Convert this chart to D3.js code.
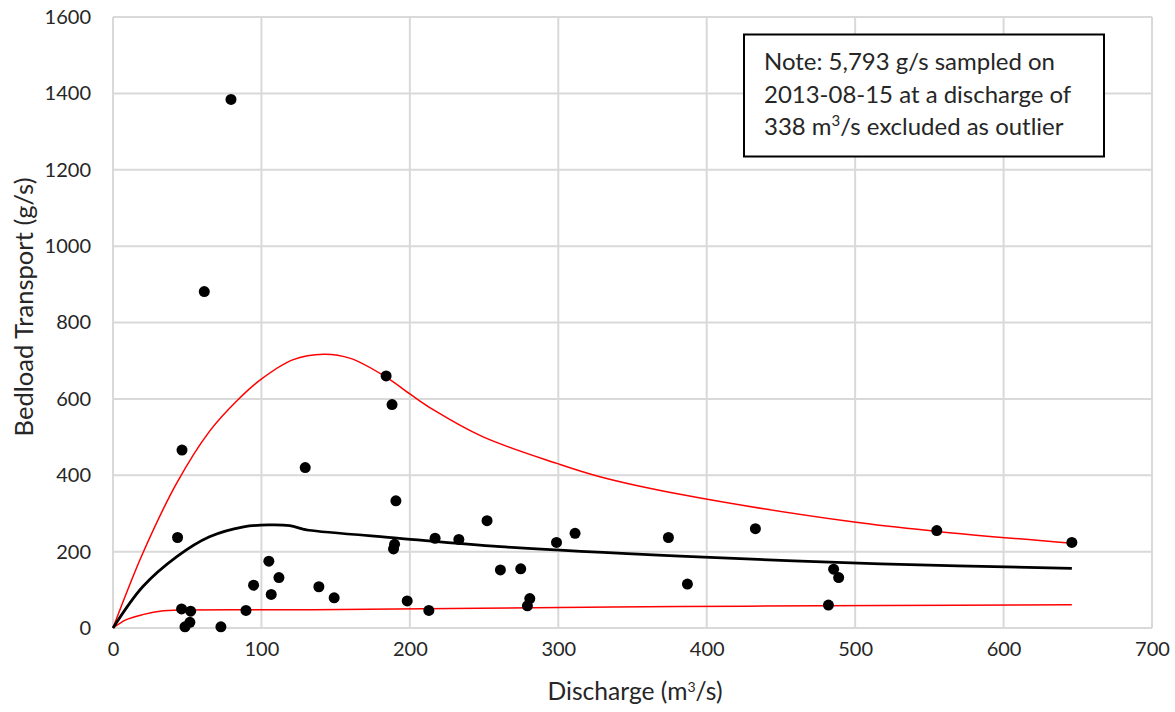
<!DOCTYPE html>
<html>
<head>
<meta charset="utf-8">
<script src="https://cdn.jsdelivr.net/npm/d3@7"></script>
<style>
  body { margin: 0; background: #fff; }
  text { font-family: Lato, "Open Sans", sans-serif; fill: #262626; }
</style>
</head>
<body>
<div id="container"></div>
<script>
// sampled bedload vs discharge
var discharge = [79.5, 61.5, 46.5, 184, 188, 129.5, 190.6, 252, 43.5, 217, 233, 189.7, 189, 261,
  105, 111.8, 94.7, 106.6, 138.7, 149, 198.2, 212.8, 46.2, 52.3, 51.8, 48.5, 89.6, 72.7,
  298.8, 311.3, 274.7, 280.8, 279.2, 374.2, 387, 432.8, 485.5, 488.9, 482, 555, 646];
var bedload = [1384, 881, 466, 660, 585, 420, 333, 281, 237, 235, 232, 219, 207, 152,
  175, 132, 112, 88, 108, 79, 71, 46, 50, 44, 15, 3, 46, 3,
  224, 248, 155, 77, 58, 237, 115, 260, 154, 132, 60, 255, 224];

// rating curve and bounds
var fitX = [0, 20, 43, 65, 88, 105, 119, 128, 132, 193, 261, 382, 517, 646];
var fitY = [0, 108, 187, 239, 265, 270, 268, 259, 256, 235, 213, 188, 168, 156];
var upperX = [0, 20, 43, 65, 84, 99, 121, 142, 160, 184, 200, 216, 249, 299, 328, 382, 498, 555, 646];
var upperY = [0, 195, 380, 515, 597, 649, 702, 717, 706, 657, 613, 571, 501, 431, 396, 350, 278, 253, 222];
var lowerX = [0, 9, 20, 34, 43, 135, 247, 382, 517, 646];
var lowerY = [0, 22, 35, 45, 47, 48, 52, 56, 59, 61];

var xTicks = [0, 100, 200, 300, 400, 500, 600, 700];
var yTicks = [0, 200, 400, 600, 800, 1000, 1200, 1400, 1600];

var width = 1175, height = 712;
var margin = {top: 17, right: 23, bottom: 84, left: 113};

var svg = d3.select("#container").append("svg")
    .attr("width", width)
    .attr("height", height);

var x = d3.scaleLinear().domain([0, 700]).range([margin.left, width - margin.right]);
var y = d3.scaleLinear().domain([0, 1600]).range([height - margin.bottom, margin.top]);

// squeeze/stretch a text to the width it has in the picture
function fitWidth(sel, target) {
  var fs = parseFloat(sel.style("font-size"));
  var w = sel.node().getComputedTextLength();
  sel.style("font-size", (fs * target / w).toFixed(2) + "px");
}

// gridlines
svg.append("g")
  .selectAll("line")
  .data(xTicks)
  .enter().append("line")
    .attr("x1", d => x(d)).attr("x2", d => x(d))
    .attr("y1", y(0)).attr("y2", y(1600))
    .attr("stroke", "#d9d9d9").attr("stroke-width", 2);

svg.append("g")
  .selectAll("line")
  .data(yTicks)
  .enter().append("line")
    .attr("x1", x(0)).attr("x2", x(700))
    .attr("y1", d => y(d)).attr("y2", d => y(d))
    .attr("stroke", "#d9d9d9").attr("stroke-width", 2);

// axes (labels only)
var xAxis = svg.append("g")
    .attr("transform", "translate(0," + y(0) + ")")
    .call(d3.axisBottom(x).tickValues(xTicks).tickFormat(d3.format("d")).tickSize(0).tickPadding(14));
var yAxis = svg.append("g")
    .attr("transform", "translate(" + x(0) + ",0)")
    .call(d3.axisLeft(y).tickValues(yTicks).tickFormat(d3.format("d")).tickSize(0).tickPadding(22));
[xAxis, yAxis].forEach(function (a) {
  a.select(".domain").remove();
  a.selectAll("text")
    .style("font-family", "Lato, sans-serif")
    .style("font-size", "20px")
    .attr("fill", "#262626");
});

// curves
var line = d3.line()
    .x(d => x(d[0]))
    .y(d => y(d[1]))
    .curve(d3.curveCatmullRom.alpha(0.5));

svg.append("path")
    .datum(d3.zip(upperX, upperY))
    .attr("d", line)
    .attr("fill", "none")
    .attr("stroke", "#ff0000")
    .attr("stroke-width", 1.5);

svg.append("path")
    .datum(d3.zip(lowerX, lowerY))
    .attr("d", line)
    .attr("fill", "none")
    .attr("stroke", "#ff0000")
    .attr("stroke-width", 1.5);

svg.append("path")
    .datum(d3.zip(fitX, fitY))
    .attr("d", line)
    .attr("fill", "none")
    .attr("stroke", "#000")
    .attr("stroke-width", 2.75);

// sampled points
svg.append("g")
  .selectAll("circle")
  .data(d3.zip(discharge, bedload))
  .enter().append("circle")
    .attr("cx", d => x(d[0]))
    .attr("cy", d => y(d[1]))
    .attr("r", 5.5)
    .attr("fill", "#000");

// axis titles
var xTitle = svg.append("text")
    .attr("x", 635)
    .attr("y", 700)
    .attr("text-anchor", "middle")
    .style("font-size", "22px")
    .html('Discharge (m<tspan baseline-shift="super" font-size="14px">3</tspan>/s)');
fitWidth(xTitle, 176);

var yTitle = svg.append("text")
    .attr("transform", "translate(33,307) rotate(-90)")
    .attr("text-anchor", "middle")
    .style("font-size", "22px")
    .text("Bedload Transport (g/s)");
fitWidth(yTitle, 259);

// note box
var note = svg.append("g");
note.append("rect")
    .attr("x", 744).attr("y", 34.5)
    .attr("width", 360).attr("height", 122)
    .attr("fill", "#fff")
    .attr("stroke", "#000")
    .attr("stroke-width", 2);

var noteLines = [
  'Note: 5,793 g/s sampled on',
  '2013-08-15 at a discharge of',
  '338 m<tspan baseline-shift="super" font-size="15px">3</tspan>/s excluded as outlier'
];
var noteText = note.selectAll("text.note")
  .data(noteLines)
  .enter().append("text")
    .attr("class", "note")
    .attr("x", 764)
    .attr("y", (d, i) => 70 + i * 32.5)
    .style("font-size", "22px")
    .html(d => d);
var noteFs = 22 * 291 / noteText.nodes()[0].getComputedTextLength();
noteText.style("font-size", noteFs.toFixed(2) + "px");
</script>
</body>
</html>
